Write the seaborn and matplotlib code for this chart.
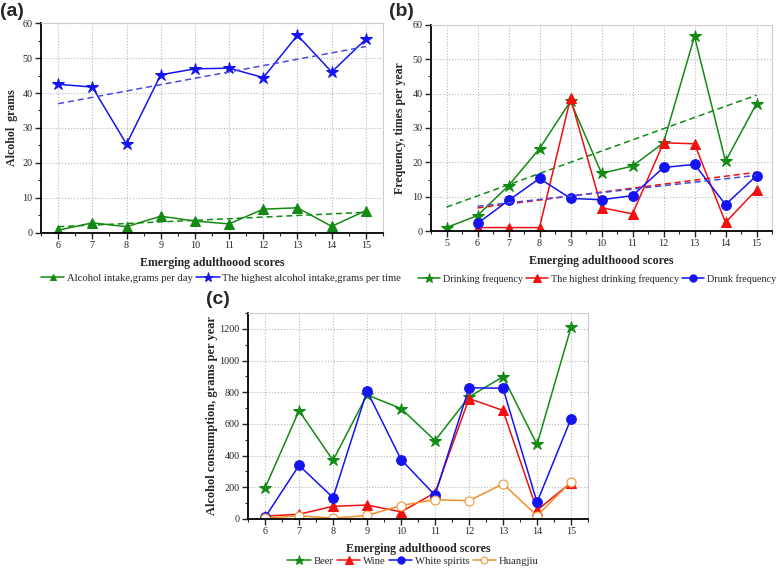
import numpy as np
import pandas as pd
import matplotlib
matplotlib.use("Agg")
import matplotlib.pyplot as plt
from matplotlib.ticker import MultipleLocator
import seaborn as sns

# ---------------- data ----------------
scores_a = [6, 7, 8, 9, 10, 11, 12, 13, 14, 15]
intake_per_day = [0.8, 2.9, 1.8, 4.8, 3.4, 2.6, 6.8, 7.2, 1.9, 6.4]
highest_intake = [42.5, 41.7, 25.4, 45.2, 46.9, 47.1, 44.4, 56.5, 46.0, 55.4]

scores_b_drink = [5, 6, 7, 8, 9, 10, 11, 12, 13, 14, 15]
drinking_freq = [1.0, 4.5, 13.2, 24.0, 37.8, 16.8, 18.9, 25.7, 56.7, 20.3, 37.1]
scores_b = [6, 7, 8, 9, 10, 11, 12, 13, 14, 15]
highest_drink_freq = [1.0, 1.0, 1.0, 38.7, 6.8, 5.0, 25.7, 25.4, 2.5, 12.0]
drunk_freq = [2.2, 8.9, 15.3, 9.5, 9.1, 10.3, 18.5, 19.4, 7.7, 16.1]

scores_c = [6, 7, 8, 9, 10, 11, 12, 13, 14, 15]
beer = [195, 683, 370, 783, 697, 495, 770, 898, 470, 1210]
wine = [18, 30, 80, 88, 45, 165, 760, 685, 55, 230]
white_spirits = [10, 338, 135, 808, 375, 150, 828, 825, 105, 633]
huangjiu = [5, 20, 5, 22, 85, 122, 115, 222, 20, 235]

GREEN = "#138a13"
BLUE = "#1414f0"
RED = "#f01010"
ORANGE = "#f0902a"
TREND_BLUE = "#4a4ae0"

sns.set_style("white")
plt.rcParams["font.family"] = ["Liberation Serif", "DejaVu Serif"]

fig = plt.figure(figsize=(7.77, 5.68), dpi=100)

ax_a = fig.add_axes([0.0528, 0.5898, 0.4401, 0.3697])
ax_b = fig.add_axes([0.5547, 0.5933, 0.4389, 0.3627])
ax_c = fig.add_axes([0.3192, 0.0863, 0.4376, 0.3627])

TICK_FS = 7.3
LABEL_FS = 8.6
LEG_FS = 7.7


def style_axes(ax, xlim, ylim, ymajor, yminor, ylabel_x):
    ax.set_xlim(*xlim)
    ax.set_ylim(*ylim)
    ax.xaxis.set_major_locator(MultipleLocator(1))
    ax.xaxis.set_minor_locator(MultipleLocator(0.5))
    ax.yaxis.set_major_locator(MultipleLocator(ymajor))
    ax.yaxis.set_minor_locator(MultipleLocator(yminor))
    ax.grid(True, which="major", linestyle=":", color="#b8b8b8", linewidth=0.8)
    ax.set_axisbelow(True)
    for s in ["top", "right"]:
        ax.spines[s].set_color("#cccccc")
        ax.spines[s].set_linewidth(0.8)
    for s in ["left", "bottom"]:
        ax.spines[s].set_color("black")
        ax.spines[s].set_linewidth(1.3)
    ax.tick_params(which="major", direction="out", length=4.5, width=1.0,
                   labelsize=TICK_FS, bottom=True, left=True, pad=1.5)
    ax.tick_params(which="minor", direction="out", length=2.2, width=0.8,
                   bottom=True, left=True)
    ax.set_xlabel("Emerging adulthoood scores", fontsize=LABEL_FS,
                  fontweight="bold", labelpad=5)
    ax.yaxis.set_label_coords(ylabel_x, 0.5)


def series(ax, x, y, color, marker, ms, label, trend=False, trend_color=None,
           mfc=None):
    df = pd.DataFrame({"x": x, "y": y})
    sns.lineplot(data=df, x="x", y="y", ax=ax, color=color, marker=marker,
                 markersize=ms, markeredgecolor=color,
                 markerfacecolor=(mfc if mfc else color), linewidth=1.1,
                 label=label, legend=False)
    if trend:
        sns.regplot(data=df, x="x", y="y", ax=ax, scatter=False, ci=None,
                    truncate=True,
                    line_kws=dict(color=trend_color or color, linestyle=(0, (4, 2.5)),
                                  linewidth=1.1))


# ---- panel (a)
series(ax_a, scores_a, intake_per_day, GREEN, "^", 6.5,
       "Alcohol intake,grams per day", trend=True)
series(ax_a, scores_a, highest_intake, BLUE, "*", 9,
       "The highest alcohol intake,grams per time", trend=True,
       trend_color=TREND_BLUE)
ax_a.set_ylabel("Alcohol  grams", fontsize=LABEL_FS, fontweight="bold")
style_axes(ax_a, (5.5, 15.5), (0, 60), 10, 5, -0.067)

# ---- panel (b)
series(ax_b, scores_b_drink, drinking_freq, GREEN, "*", 9,
       "Drinking frequency", trend=True)
series(ax_b, scores_b, highest_drink_freq, RED, "^", 7,
       "The highest drinking frequency", trend=True)
series(ax_b, scores_b, drunk_freq, BLUE, "o", 7,
       "Drunk frequency", trend=True, trend_color=TREND_BLUE)
ax_b.set_ylabel("Frequency, times per year", fontsize=LABEL_FS,
                fontweight="bold")
style_axes(ax_b, (4.5, 15.5), (0, 60), 10, 5, -0.073)

# ---- panel (c)
series(ax_c, scores_c, beer, GREEN, "*", 9, "Beer")
series(ax_c, scores_c, wine, RED, "^", 7, "Wine")
series(ax_c, scores_c, white_spirits, BLUE, "o", 7, "White spirits")
series(ax_c, scores_c, huangjiu, ORANGE, "o", 6.5, "Huangjiu", mfc="white")
ax_c.set_ylabel("Alcohol consumption, grams per year", fontsize=LABEL_FS + 0.3,
                fontweight="bold")
style_axes(ax_c, (5.5, 15.5), (0, 1300), 200, 100, -0.088)


def make_legend(ax, anchor_x, anchor_y, ncol, fs):
    lines = [l for l in ax.get_lines() if not l.get_label().startswith("_")]
    leg = ax.legend(handles=lines, loc="center", ncol=ncol,
                    bbox_to_anchor=(anchor_x, anchor_y),
                    bbox_transform=fig.transFigure, frameon=False,
                    fontsize=fs, handlelength=2.2, columnspacing=0.3,
                    handletextpad=0.25, borderaxespad=0, numpoints=1,
                    markerscale=0.75)
    return leg


make_legend(ax_a, 221 / 777, 1 - 278 / 568, 2, LEG_FS)
make_legend(ax_b, 597 / 777, 1 - 279 / 568, 3, 7.3)
make_legend(ax_c, 413 / 777, 1 - 561 / 568, 4, LEG_FS)

# panel letters
pl = dict(fontsize=14, fontweight="bold", family=["Liberation Sans", "DejaVu Sans"],
          va="center", ha="left")
fig.text(0 / 777, 1 - 11 / 568, "(a)", **pl)
fig.text(389 / 777, 1 - 12 / 568, "(b)", **pl)
fig.text(206 / 777, 1 - 300 / 568, "(c)", **pl)

fig.savefig("out.png", dpi=100)
